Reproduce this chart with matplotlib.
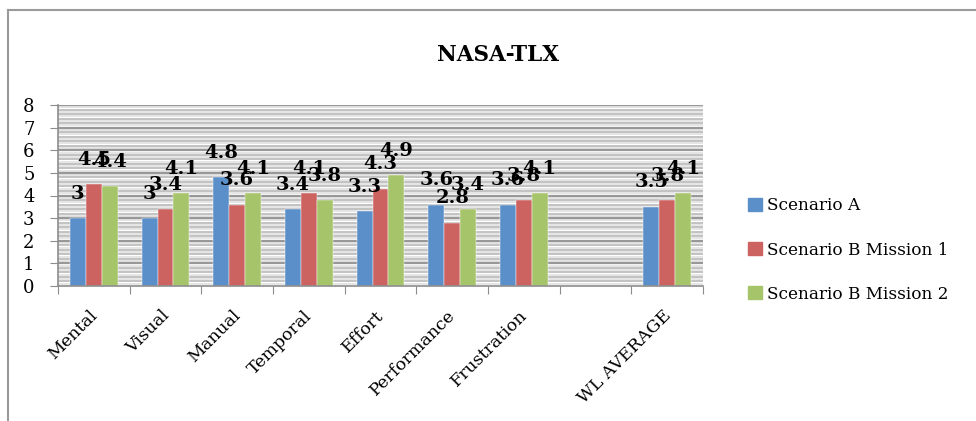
import matplotlib
matplotlib.use("Agg")
import matplotlib.pyplot as plt
import numpy as np
from matplotlib.patches import Rectangle
from matplotlib.lines import Line2D
import matplotlib.transforms as mtransforms

categories = ["Mental", "Visual", "Manual", "Temporal", "Effort", "Performance",
              "Frustration", "", "WL AVERAGE"]
series_names = ["Scenario A", "Scenario B Mission 1", "Scenario B Mission 2"]
scenario_a = [3, 3, 4.8, 3.4, 3.3, 3.6, 3.6, None, 3.5]
scenario_b1 = [4.5, 3.4, 3.6, 4.1, 4.3, 2.8, 3.8, None, 3.8]
scenario_b2 = [4.4, 4.1, 4.1, 3.8, 4.9, 3.4, 4.1, None, 4.1]
colors = ["#5B8FC9", "#CD6360", "#A6C46A"]
yticks = [0, 1, 2, 3, 4, 5, 6, 7, 8]

serif = "DejaVu Serif"

fig = plt.figure(figsize=(9.76, 4.21), dpi=100)
fig.patch.set_facecolor("white")

# outer frame (top and left visible)
fig.add_artist(Line2D([8/976, 1.0], [1-9.5/421, 1-9.5/421], transform=fig.transFigure,
                      color="#9a9a9a", lw=1.5))
fig.add_artist(Line2D([8/976, 8/976], [0, 1-9.5/421], transform=fig.transFigure,
                      color="#9a9a9a", lw=1.5))

ax = fig.add_axes([58/976, 1-286/421, (703-58)/976, (286-105)/421])
ax.set_xlim(-0.5, len(categories) - 0.5)
ax.set_ylim(0, 8)

# stripe gridlines
for v in np.arange(0.1, 8.0, 0.2):
    ax.axhline(v, color="#dedede", lw=1.1, zorder=0)
for v in np.arange(0.2, 8.0, 0.2):
    if abs(v - round(v)) > 1e-6:
        ax.axhline(v, color="#bdbdbd", lw=1.3, zorder=0)
for v in yticks[1:]:
    ax.axhline(v, color="#989898", lw=1.6, zorder=0.5)

x = np.arange(len(categories))
w = 0.222
all_series = [scenario_a, scenario_b1, scenario_b2]
for i, (vals, col) in enumerate(zip(all_series, colors)):
    xs = [xi + (i - 1) * w for xi, v in zip(x, vals) if v is not None]
    vs = [v for v in vals if v is not None]
    ax.bar(xs, vs, width=w, color=col, edgecolor="white", linewidth=0.3, zorder=2)
    for xi, v in zip(xs, vs):
        ax.text(xi, v + 1.08, f"{v:g}", ha="center", va="center",
                fontfamily=serif, fontweight="bold", fontsize=14, zorder=3)

for s in ["top", "right"]:
    ax.spines[s].set_visible(False)
ax.spines["left"].set_color("#8c8c8c")
ax.spines["bottom"].set_color("#8c8c8c")
ax.spines["left"].set_linewidth(1.2)
ax.spines["bottom"].set_linewidth(1.2)

ax.set_yticks(yticks)
ax.set_yticklabels([str(t) for t in yticks], fontfamily=serif, fontsize=13)
ax.tick_params(axis="y", length=6, color="#8c8c8c", pad=11)

ax.set_xticks(np.arange(-0.5, len(categories), 1.0))
ax.set_xticklabels([])
ax.tick_params(axis="x", length=6, color="#8c8c8c", direction="out")

offset = mtransforms.ScaledTranslation(-5/100, -21/100, fig.dpi_scale_trans)
for xi, lab in zip(x, categories):
    ax.text(xi, 0, lab, transform=mtransforms.blended_transform_factory(ax.transData, ax.transAxes) + offset,
            rotation=45, ha="right", va="top", rotation_mode="anchor",
            fontfamily=serif, fontsize=12.5)

fig.text(498/976, 1-55/421, "NASA-TLX", ha="center", va="center",
         fontfamily=serif, fontweight="bold", fontsize=15.5)

handles = [Rectangle((0, 0), 1, 1, color=c) for c in colors]
fig.legend(handles, series_names, loc="upper left", bbox_to_anchor=(740/976, 1-189/421),
           frameon=False, prop={"family": serif, "size": 12.2}, handlelength=0.8,
           handleheight=0.8, handletextpad=0.3, labelspacing=1.6, borderpad=0)

fig.savefig("out.png", dpi=100)
